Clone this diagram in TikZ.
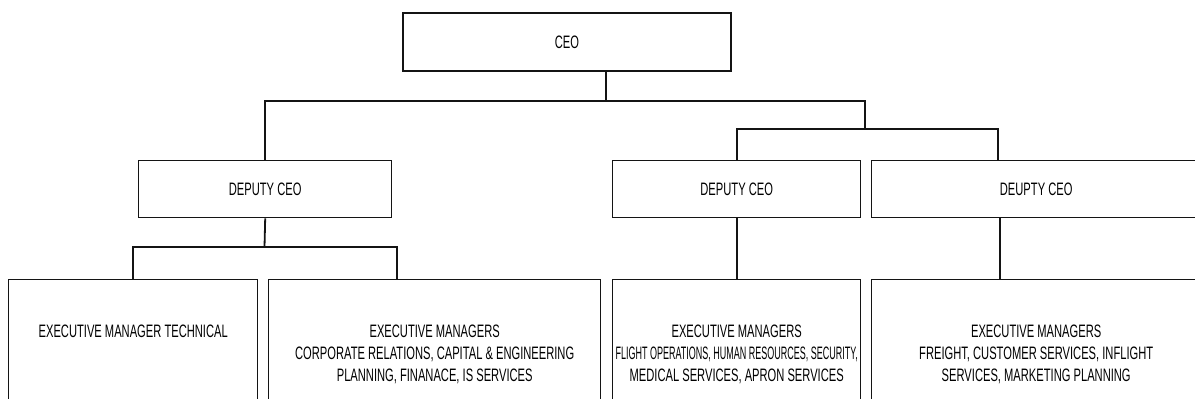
\documentclass[tikz,border=0pt]{standalone}
\usepackage{fontspec}
\setmainfont{Liberation Sans}[FakeStretch=0.62]
\newfontfamily\tightfont{Liberation Sans}[FakeStretch=0.5]
\usetikzlibrary{positioning}
\definecolor{ink}{HTML}{141414}
\newcommand{\mgrlines}[1]{\begin{tabular}[t]{@{}c@{}}#1\end{tabular}}

\begin{document}
\begin{tikzpicture}[x=.5pt,y=-.5pt,
      post/.style={draw=ink,line width=.7pt,font=\fontsize{9}{11}\selectfont,inner sep=0pt},
      ceo/.style={post,minimum width=164pt,minimum height=29pt},
      deputy/.style={post,anchor=north west,minimum height=28.5pt},
      mgr/.style={post,anchor=north west,text height=28.75pt,text depth=70pt},
      link/.style={draw=ink,line width=.9pt}]
    \useasboundingbox (0,0) rectangle (1195,399);
    \clip (0,0) rectangle (1195,399);
    \node[ceo] (ceo) at (567,42) {CEO};
    \node[deputy,minimum width=126.5pt] (depL) at (138,160) {DEPUTY CEO};
    \node[deputy,minimum width=124pt] (depM) at (612,160) {DEPUTY CEO};
    \node[deputy,minimum width=164.5pt] (depR) at (871,160) {DEUPTY CEO};
    \coordinate (topbus) at (606,101);
    \coordinate (subbus) at (865,129);
    \draw[link] (ceo.south -| topbus) -- (topbus);
    \draw[link] (depL.north) |- (topbus) -| (subbus);
    \draw[link] (depM.north) |- (subbus) -| ([xshift=63.5pt]depR.north west);
    % executive managers
    \node[mgr,minimum width=124.5pt] (mgrT) at (8,279) {\mgrlines{EXECUTIVE MANAGER TECHNICAL}};
    \node[mgr,minimum width=166pt] (mgrC) at (268,279) {\mgrlines{EXECUTIVE MANAGERS\\CORPORATE RELATIONS, CAPITAL \& ENGINEERING\\PLANNING, FINANACE, IS SERVICES}};
    \node[mgr,minimum width=124pt] (mgrF) at (612,279) {\mgrlines{EXECUTIVE MANAGERS\\{\tightfont FLIGHT OPERATIONS, HUMAN RESOURCES, SECURITY,}\\MEDICAL SERVICES, APRON SERVICES}};
    \node[mgr,minimum width=164.5pt] (mgrS) at (871,279) {\mgrlines{EXECUTIVE MANAGERS\\FREIGHT, CUSTOMER SERVICES, INFLIGHT\\SERVICES, MARKETING PLANNING}};
    \coordinate (lowbus) at (264.5,247);
    \draw[link] (depL.south) -- (lowbus);
    \draw[link] (mgrT.north) |- (lowbus) -| ([xshift=64.5pt]mgrC.north west);
    \draw[link] (depM.south) -- (mgrF.north);
    \draw[link] ([xshift=64.5pt]depR.south west) -- ([xshift=64.5pt]mgrS.north west);
\end{tikzpicture}
\end{document}
